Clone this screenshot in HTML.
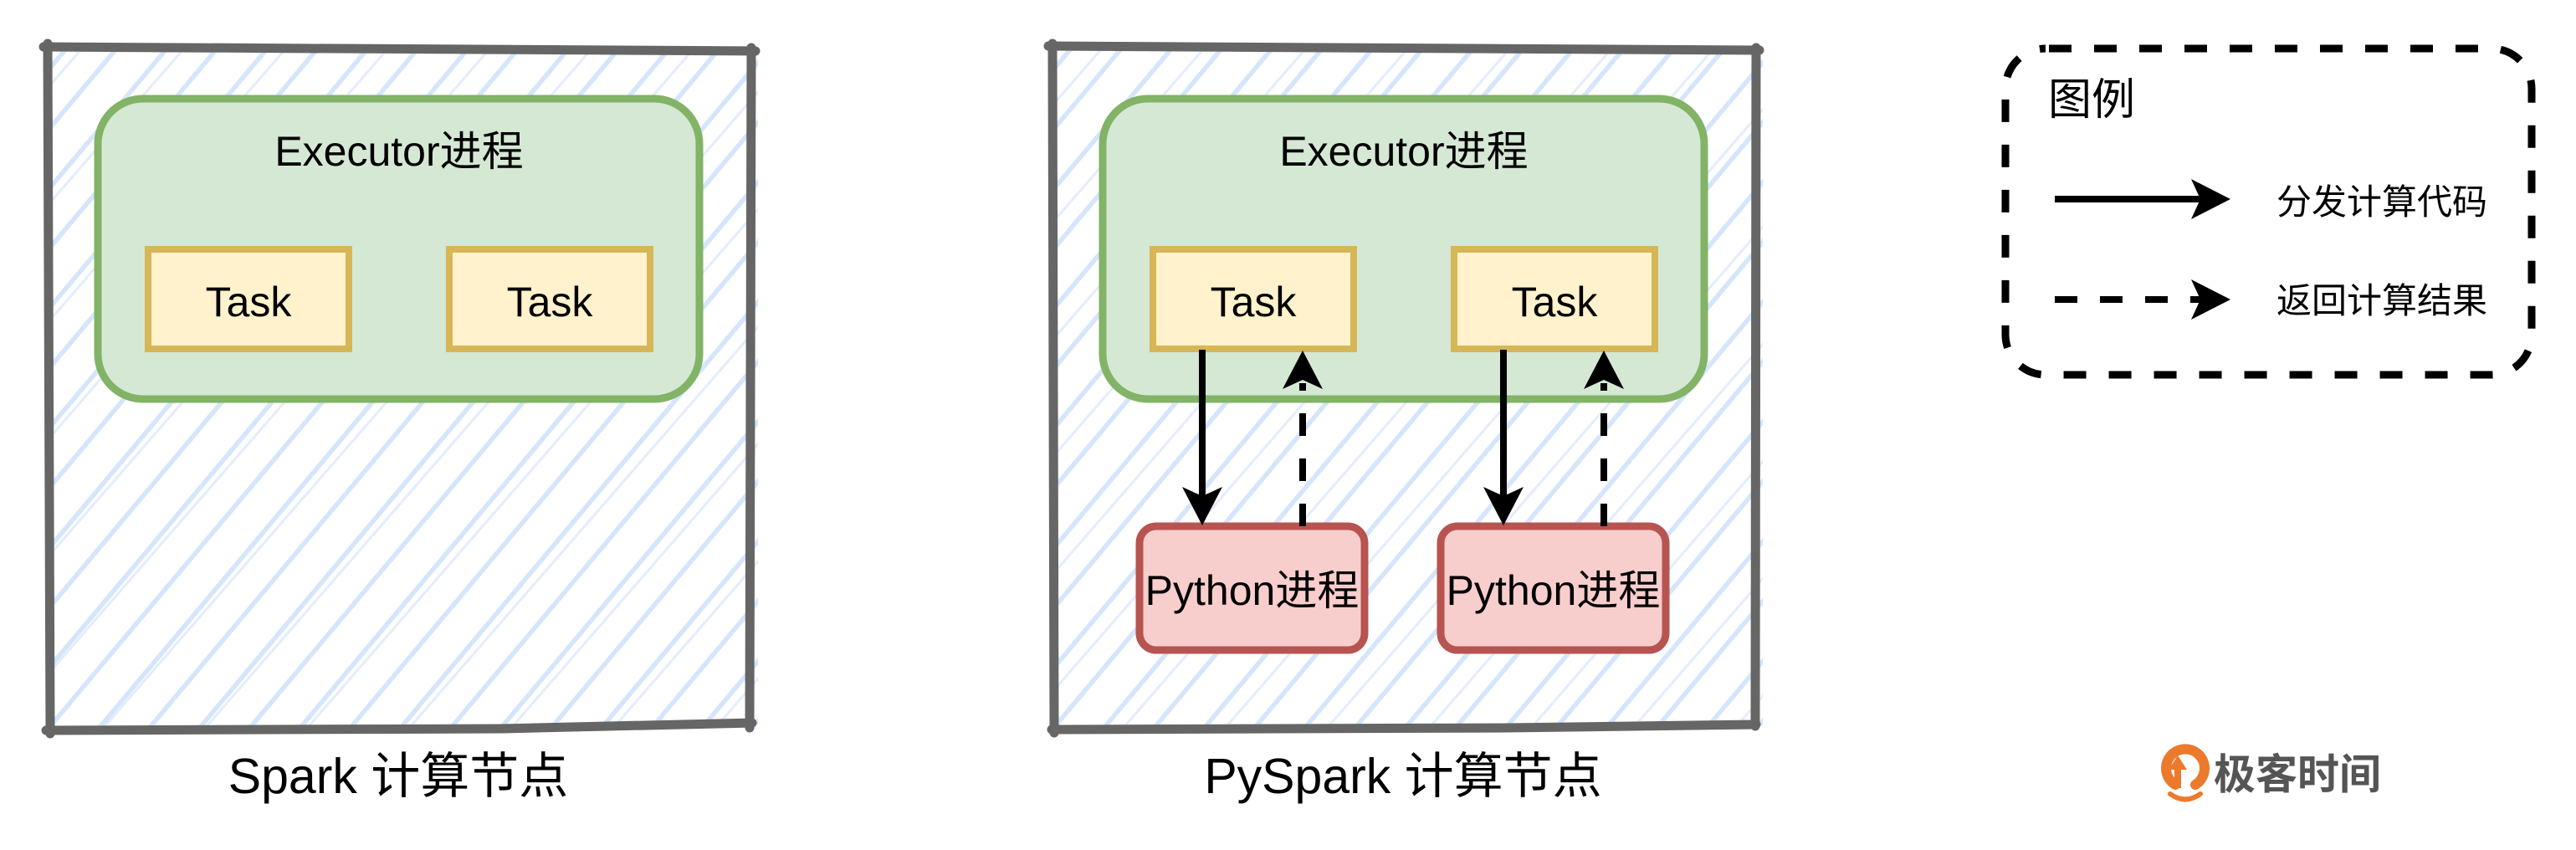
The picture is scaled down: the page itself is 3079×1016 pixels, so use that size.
<!DOCTYPE html>
<html>
<head>
<meta charset="utf-8">
<style>
  html, body { margin: 0; padding: 0; background: #ffffff; }
  body { width: 3079px; height: 1016px; overflow: hidden; }
  svg { display: block; }
  .lat { font-family: "Liberation Sans", "Noto Sans CJK SC", sans-serif; }
</style>
</head>
<body>
<svg width="3079" height="1016" viewBox="0 0 3079 1016" xmlns="http://www.w3.org/2000/svg">
  <defs>
    <pattern id="h1" patternUnits="userSpaceOnUse" width="46" height="46" patternTransform="rotate(40)">
      <line x1="6" y1="-5" x2="6" y2="55" stroke="#d5e5fb" stroke-width="5.5"/>
    </pattern>
    <pattern id="h2" patternUnits="userSpaceOnUse" width="92" height="92" patternTransform="rotate(41) translate(14,0)">
      <line x1="6" y1="-5" x2="6" y2="100" stroke="#e3edfc" stroke-width="3"/>
    </pattern>
    <clipPath id="cL"><rect x="58" y="58" width="848" height="812"/></clipPath>
    <clipPath id="cR"><rect x="1259" y="58" width="848" height="810"/></clipPath>
  </defs>

  <rect x="0" y="0" width="3079" height="1016" fill="#ffffff"/>

  <!-- ===== Left panel: Spark ===== -->
  <g clip-path="url(#cL)">
    <rect x="58" y="58" width="848" height="812" fill="url(#h2)"/>
    <rect x="58" y="58" width="848" height="812" fill="url(#h1)"/>
  </g>
  <g stroke="#666666" stroke-width="11" stroke-linecap="round" fill="none">
    <path d="M52,56 L903,61"/>
    <path d="M898,57 L896,870"/>
    <path d="M55,873 L600,871 L899,864"/>
    <path d="M57,52 L60,877"/>
  </g>

  <rect x="117" y="118" width="719" height="359" rx="54" ry="54" fill="#d5e8d4" stroke="#82b366" stroke-width="9"/>
  <text class="lat" x="477" y="198" font-size="50" text-anchor="middle" fill="#000">Executor进程</text>

  <rect x="177" y="298" width="240" height="119" fill="#fff2cc" stroke="#d6b656" stroke-width="8"/>
  <text class="lat" x="297" y="378" font-size="50" text-anchor="middle" fill="#000">Task</text>
  <rect x="537" y="298" width="240" height="119" fill="#fff2cc" stroke="#d6b656" stroke-width="8"/>
  <text class="lat" x="657" y="378" font-size="50" text-anchor="middle" fill="#000">Task</text>

  <text class="lat" x="476" y="948" font-size="59" text-anchor="middle" fill="#000">Spark 计算节点</text>

  <!-- ===== Right panel: PySpark ===== -->
  <g clip-path="url(#cR)">
    <rect x="1259" y="58" width="848" height="810" fill="url(#h2)"/>
    <rect x="1259" y="58" width="848" height="810" fill="url(#h1)"/>
  </g>
  <g stroke="#666666" stroke-width="11" stroke-linecap="round" fill="none">
    <path d="M1253,55 L2103,60"/>
    <path d="M2099,57 L2098,868"/>
    <path d="M1257,872 L1800,870 L2099,866"/>
    <path d="M1258,52 L1260,876"/>
  </g>

  <rect x="1318" y="118" width="719" height="359" rx="54" ry="54" fill="#d5e8d4" stroke="#82b366" stroke-width="9"/>
  <text class="lat" x="1678" y="198" font-size="50" text-anchor="middle" fill="#000">Executor进程</text>

  <rect x="1378" y="298" width="240" height="119" fill="#fff2cc" stroke="#d6b656" stroke-width="8"/>
  <text class="lat" x="1498" y="378" font-size="50" text-anchor="middle" fill="#000">Task</text>
  <rect x="1738" y="298" width="240" height="119" fill="#fff2cc" stroke="#d6b656" stroke-width="8"/>
  <text class="lat" x="1858" y="378" font-size="50" text-anchor="middle" fill="#000">Task</text>

  <rect x="1362" y="629" width="269" height="148" rx="20" ry="20" fill="#f8cecc" stroke="#b85450" stroke-width="9"/>
  <text class="lat" x="1496.5" y="723" font-size="50" text-anchor="middle" fill="#000">Python进程</text>
  <rect x="1722" y="629" width="269" height="148" rx="20" ry="20" fill="#f8cecc" stroke="#b85450" stroke-width="9"/>
  <text class="lat" x="1856.5" y="723" font-size="50" text-anchor="middle" fill="#000">Python进程</text>

  <!-- arrows pair 1 -->
  <line x1="1437" y1="418" x2="1437" y2="597" stroke="#000" stroke-width="8"/>
  <polygon points="1437,628 1413,582 1437,593 1461,582" fill="#000"/>
  <line x1="1557" y1="629" x2="1557" y2="458" stroke="#000" stroke-width="8" stroke-dasharray="27 27"/>
  <polygon points="1557,419 1533,465 1557,454 1581,465" fill="#000"/>

  <!-- arrows pair 2 -->
  <line x1="1797" y1="418" x2="1797" y2="597" stroke="#000" stroke-width="8"/>
  <polygon points="1797,628 1773,582 1797,593 1821,582" fill="#000"/>
  <line x1="1917" y1="629" x2="1917" y2="458" stroke="#000" stroke-width="8" stroke-dasharray="27 27"/>
  <polygon points="1917,419 1893,465 1917,454 1941,465" fill="#000"/>

  <text class="lat" x="1677" y="948" font-size="59" text-anchor="middle" fill="#000">PySpark 计算节点</text>

  <!-- ===== Legend ===== -->
  <rect x="2397" y="58" width="629" height="390" rx="48" ry="48" fill="none" stroke="#000" stroke-width="9" stroke-dasharray="27 27" stroke-dashoffset="-4"/>
  <text class="lat" x="2448" y="137" font-size="52" fill="#000">图例</text>

  <line x1="2456" y1="238" x2="2630" y2="238" stroke="#000" stroke-width="8"/>
  <polygon points="2666,238 2619,214 2630,238 2619,262" fill="#000"/>
  <text class="lat" x="2721" y="256" font-size="42" fill="#000">分发计算代码</text>

  <line x1="2456" y1="358" x2="2630" y2="358" stroke="#000" stroke-width="8" stroke-dasharray="27 27"/>
  <polygon points="2666,358 2619,334 2630,358 2619,382" fill="#000"/>
  <text class="lat" x="2721" y="374" font-size="42" fill="#000">返回计算结果</text>

  <!-- ===== Logo ===== -->
  <g>
    <path d="M2600,938 A23,23 0 1 1 2624,938" fill="none" stroke="#ec7a2c" stroke-width="12" stroke-linecap="round"/>
    <polygon points="2603,903 2592,920 2599,920 2599,942 2607,942 2607,920 2614,920" fill="#ec7a2c"/>
    <path d="M2594,949 Q2612,962 2630,949" fill="none" stroke="#ec7a2c" stroke-width="6" stroke-linecap="round"/>
  </g>
  <text class="lat" x="2646" y="943" font-size="50" font-weight="bold" fill="#555555">极客时间</text>
</svg>
</body>
</html>
